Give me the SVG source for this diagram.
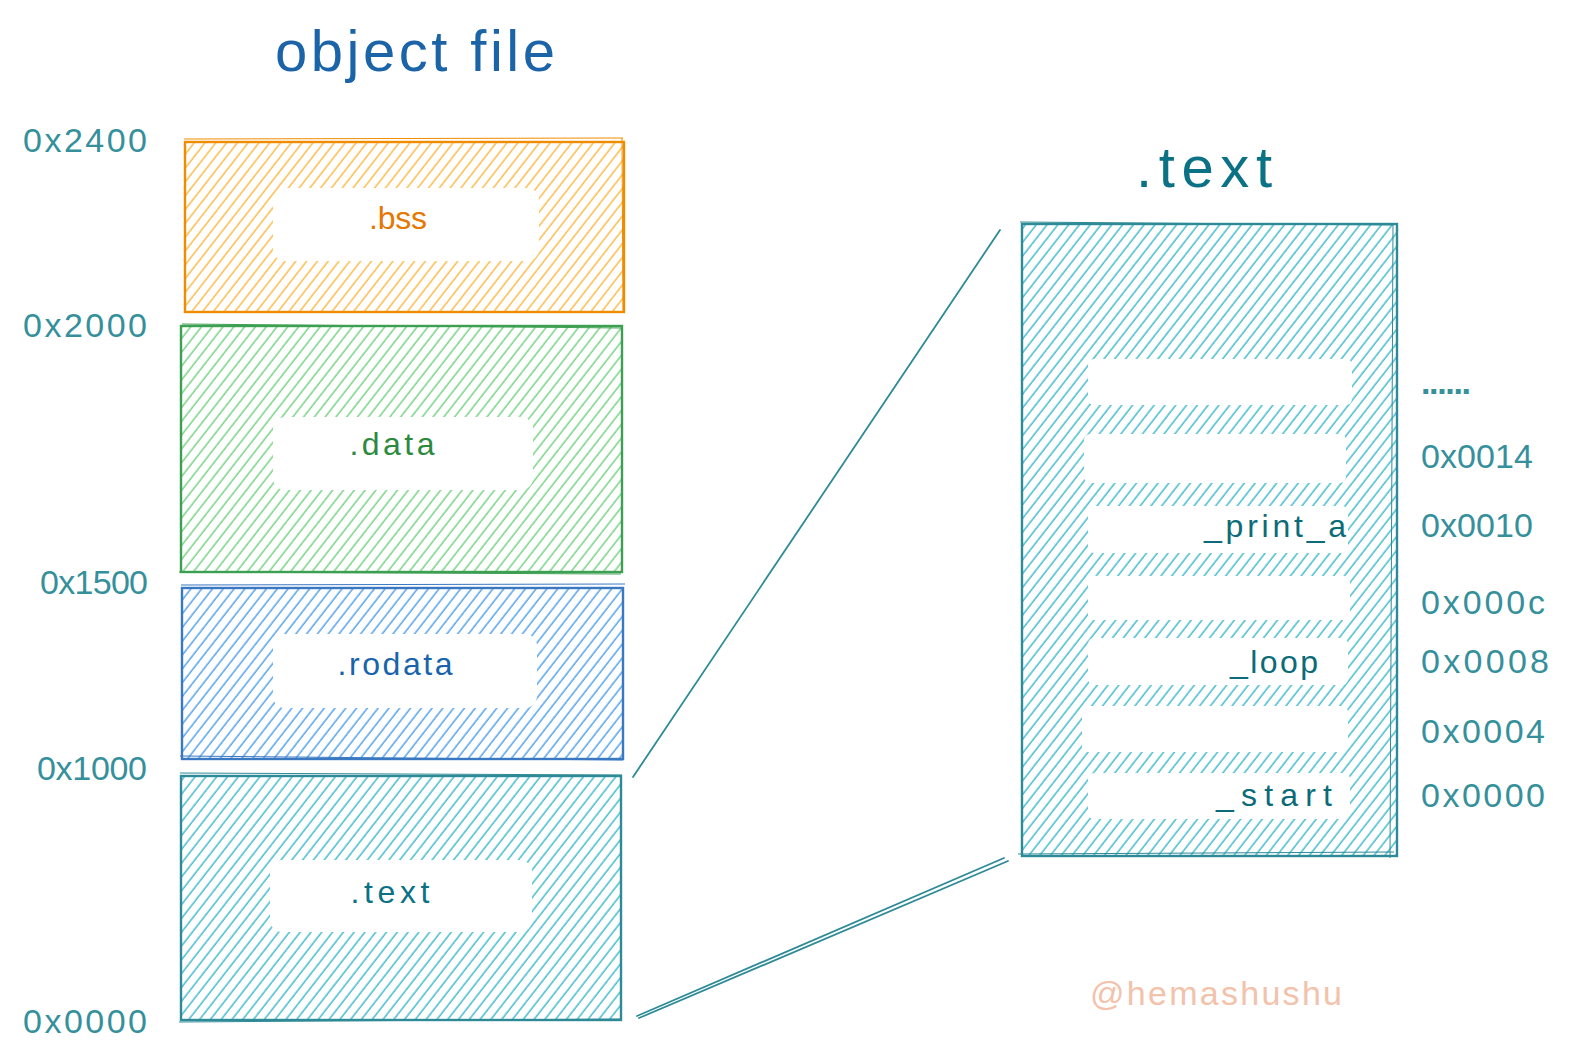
<svg xmlns="http://www.w3.org/2000/svg" width="1575" height="1064" viewBox="0 0 1575 1064">
  <style>
    .t { font-family: "Liberation Sans", "DejaVu Sans", sans-serif; }
    .addr { font-family: "Liberation Sans", "DejaVu Sans", sans-serif; font-size: 34px; fill: #35909c; }
    .lbl { font-size: 32px; text-anchor: middle; }
    .fn { font-family: "Liberation Sans", "DejaVu Sans", sans-serif; font-size: 32px; fill: #0b6b78; }
    .inner { fill: #ffffff; }
    .conn { stroke: #2e8a96; stroke-width: 1.8; fill: none; stroke-linecap: round; }
  </style>
  <defs>
    <pattern id="hOrange" width="8.5" height="8.5" patternUnits="userSpaceOnUse" patternTransform="rotate(38)">
      <line x1="3" y1="0" x2="3" y2="8.5" stroke="#fcbf55" stroke-width="1.6"/>
    </pattern>
    <pattern id="hGreen" width="8.5" height="8.5" patternUnits="userSpaceOnUse" patternTransform="rotate(38)">
      <line x1="3" y1="0" x2="3" y2="8.5" stroke="#7fd68c" stroke-width="1.6"/>
    </pattern>
    <pattern id="hBlue" width="8.5" height="8.5" patternUnits="userSpaceOnUse" patternTransform="rotate(38)">
      <line x1="3" y1="0" x2="3" y2="8.5" stroke="#5ea8ee" stroke-width="1.6"/>
    </pattern>
    <pattern id="hTeal" width="8.5" height="8.5" patternUnits="userSpaceOnUse" patternTransform="rotate(38)">
      <line x1="3" y1="0" x2="3" y2="8.5" stroke="#4ec0d0" stroke-width="1.6"/>
    </pattern>
  </defs>

  <rect width="1575" height="1064" fill="#ffffff"/>

  <g id="title">
    <text class="t" x="275" y="71" font-size="58" fill="#1c64a8" textLength="280" lengthAdjust="spacing">object file</text>
  </g>

  <g id="bss">
    <rect x="185" y="142" width="439" height="170" fill="url(#hOrange)" stroke="#f08c00" stroke-width="2.4"/>
    <path d="M184 139 L623 138 M622 138 L623 313" stroke="#f08c00" stroke-width="1" fill="none"/>
    <rect class="inner" x="273" y="188" width="266" height="73" rx="12"/>
    <text class="t lbl" x="398" y="229" fill="#e67700" textLength="58" lengthAdjust="spacing">.bss</text>
  </g>

  <g id="data">
    <rect x="181" y="326" width="441" height="246" fill="url(#hGreen)" stroke="#3d9f52" stroke-width="2.4"/>
    <path d="M182 324 L623 328 M179 572 L621 574" stroke="#3d9f52" stroke-width="1" fill="none"/>
    <rect class="inner" x="273" y="417" width="260" height="73" rx="12"/>
    <text class="t lbl" x="392" y="455" fill="#2b8a3e" textLength="85" lengthAdjust="spacing">.data</text>
  </g>

  <g id="rodata">
    <rect x="182" y="588" width="441" height="171" fill="url(#hBlue)" stroke="#3a78c2" stroke-width="2.4"/>
    <path d="M181 585 L625 584 M180 756 L623 760" stroke="#3a78c2" stroke-width="1" fill="none"/>
    <rect class="inner" x="273" y="634" width="264" height="74" rx="12"/>
    <text class="t lbl" x="395" y="675" fill="#1864ab" textLength="115" lengthAdjust="spacing">.rodata</text>
  </g>

  <g id="text-section">
    <rect x="181" y="776" width="440" height="244" fill="url(#hTeal)" stroke="#2e8a96" stroke-width="2.4"/>
    <path d="M180 773 L622 775 M179 1022 L620 1019" stroke="#2e8a96" stroke-width="1" fill="none"/>
    <rect class="inner" x="270" y="860" width="262" height="72" rx="12"/>
    <text class="t lbl" x="390" y="903" fill="#0b7285" textLength="79" lengthAdjust="spacing">.text</text>
  </g>

  <g id="left-addresses">
    <text class="addr" x="23" y="152" textLength="124" lengthAdjust="spacing">0x2400</text>
    <text class="addr" x="23" y="337" textLength="124" lengthAdjust="spacing">0x2000</text>
    <text class="addr" x="40" y="594" textLength="108" lengthAdjust="spacing">0x1500</text>
    <text class="addr" x="37" y="780" textLength="110" lengthAdjust="spacing">0x1000</text>
    <text class="addr" x="23" y="1033" textLength="124" lengthAdjust="spacing">0x0000</text>
  </g>

  <g id="text-title">
    <text class="t" x="1136" y="187" font-size="58" fill="#0b7285" textLength="136" lengthAdjust="spacing">.text</text>
  </g>

  <g id="text-detail">
    <rect x="1022" y="224" width="375" height="632" fill="url(#hTeal)" stroke="#2e8a96" stroke-width="2.4"/>
    <path d="M1020 222 L1393 225 M1393 224 L1390 858 M1018 854 L1394 852" stroke="#2e8a96" stroke-width="1" fill="none"/>
    <rect class="inner" x="1088" y="359" width="264" height="46" rx="6"/>
    <rect class="inner" x="1084" y="434" width="262" height="49" rx="6"/>
    <rect class="inner" x="1088" y="506" width="260" height="47" rx="6"/>
    <rect class="inner" x="1088" y="576" width="262" height="44" rx="6"/>
    <rect class="inner" x="1088" y="638" width="260" height="47" rx="6"/>
    <rect class="inner" x="1082" y="706" width="266" height="46" rx="6"/>
    <rect class="inner" x="1088" y="773" width="262" height="46" rx="6"/>
    <text class="fn" x="1204" y="537" textLength="142" lengthAdjust="spacing">_print_a</text>
    <text class="fn" x="1230" y="673" textLength="88" lengthAdjust="spacing">_loop</text>
    <text class="fn" x="1216" y="806" textLength="116" lengthAdjust="spacing">_start</text>
  </g>

  <g id="right-addresses">
    <text class="addr" x="1421" y="394" font-weight="bold" textLength="50" lengthAdjust="spacing">......</text>
    <text class="addr" x="1421" y="468" textLength="112" lengthAdjust="spacing">0x0014</text>
    <text class="addr" x="1421" y="537" textLength="112" lengthAdjust="spacing">0x0010</text>
    <text class="addr" x="1421" y="614" textLength="124" lengthAdjust="spacing">0x000c</text>
    <text class="addr" x="1421" y="673" textLength="128" lengthAdjust="spacing">0x0008</text>
    <text class="addr" x="1421" y="743" textLength="124" lengthAdjust="spacing">0x0004</text>
    <text class="addr" x="1421" y="807" textLength="124" lengthAdjust="spacing">0x0000</text>
  </g>

  <g id="connectors">
    <line class="conn" x1="633" y1="777" x2="1000" y2="230"/>
    <line class="conn" x1="637" y1="1016" x2="1004" y2="858"/>
    <line class="conn" x1="639" y1="1018" x2="1008" y2="861" stroke-width="1.2"/>
  </g>

  <g id="watermark">
    <text class="t" x="1090" y="1005" font-size="34" fill="#f2c2ab" textLength="252" lengthAdjust="spacing">@hemashushu</text>
  </g>
</svg>
